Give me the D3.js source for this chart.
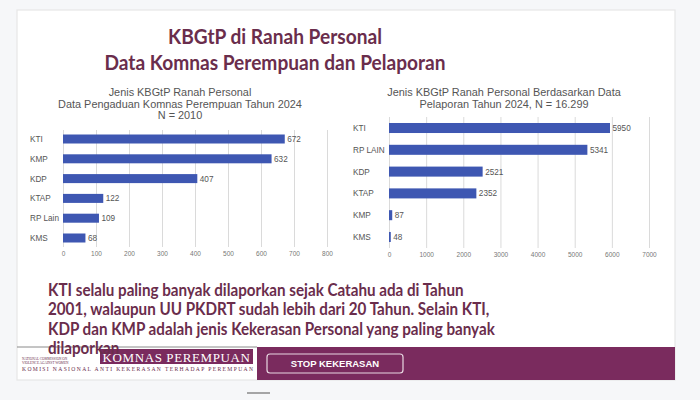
<!DOCTYPE html>
<html><head><meta charset="utf-8">
<script src="https://cdn.jsdelivr.net/npm/d3@7"></script>
<style>html,body{margin:0;padding:0;background:#f6f7f9;}svg{display:block;}</style>
</head><body>
<script>
const leftCategories = ["KTI","KMP","KDP","KTAP","RP Lain","KMS"];
const leftValues = [672,632,407,122,109,68];
const leftTicks = [0,100,200,300,400,500,600,700,800];
const rightCategories = ["KTI","RP LAIN","KDP","KTAP","KMP","KMS"];
const rightValues = [5950,5341,2521,2352,87,48];
const rightTicks = [0,1000,2000,3000,4000,5000,6000,7000];
const leftTitle = ["Jenis KBGtP Ranah Personal","Data Pengaduan Komnas Perempuan Tahun 2024","N = 2010"];
const rightTitle = ["Jenis KBGtP Ranah Personal Berdasarkan Data","Pelaporan Tahun 2024, N = 16.299"];
const mainTitle = ["KBGtP di Ranah Personal","Data Komnas Perempuan dan Pelaporan"];
const bodyText = ["KTI selalu paling banyak dilaporkan sejak Catahu ada di Tahun","2001, walaupun UU PKDRT sudah lebih dari 20 Tahun. Selain KTI,","KDP dan KMP adalah jenis Kekerasan Personal yang paling banyak","dilaporkan"];

const W=700,H=400;
const svg=d3.select("body").append("svg").attr("width",W).attr("height",H);
svg.append("rect").attr("width",W).attr("height",H).attr("fill","#f6f7f9");
// card
svg.append("rect").attr("x",17).attr("y",10).attr("width",658).attr("height",370).attr("fill","#ffffff").attr("stroke","#e6e6e6").attr("stroke-width",1.2);

const maroon="#6a2d4c";
svg.append("g").attr("transform","translate(275,0) scale(0.92,1)")
  .selectAll("text.mt").data(mainTitle).join("text").attr("class","mt")
  .attr("x",0).attr("y",(d,i)=>44.5+i*26).attr("text-anchor","middle")
  .attr("font-family","Lato, 'Noto Sans', sans-serif").attr("font-weight","bold")
  .attr("font-size",20.8).attr("fill",maroon).text(d=>d);

function chart(cats,vals,ticks,title,cfg){
  const g=svg.append("g");
  const x=d3.scaleLinear().domain([0,ticks[ticks.length-1]]).range([cfg.x0,cfg.x1]);
  const y=d3.scaleBand().domain(cats).range([cfg.y0,cfg.y1]).paddingInner(cfg.pi).paddingOuter(cfg.po);
  g.selectAll("text.ct").data(title).join("text").attr("class","ct")
    .attr("x",cfg.tx).attr("y",(d,i)=>cfg.ty+i*11.7).attr("text-anchor","middle")
    .attr("font-family","'Liberation Sans', Arial, sans-serif").attr("font-size",10.9).attr("fill","#555").text(d=>d);
  const ax=d3.axisBottom(x).tickValues(ticks).tickSize(-(cfg.y1-cfg.y0)).tickFormat(d3.format("d"));
  const axg=g.append("g").attr("transform",`translate(0,${cfg.y1})`).call(ax);
  axg.select(".domain").remove();
  axg.selectAll(".tick line").attr("stroke","#dadada").attr("stroke-width",1);
  axg.selectAll(".tick text").attr("font-family","'Liberation Sans', Arial, sans-serif").attr("font-size",6.5).attr("fill","#777").attr("dy",0).attr("y",9);
  g.selectAll("rect.bar").data(vals).join("rect").attr("class","bar")
    .attr("x",x(0)).attr("y",(d,i)=>y(cats[i])).attr("width",d=>x(d)-x(0)).attr("height",y.bandwidth())
    .attr("fill","#3e57b2");
  g.selectAll("text.vl").data(vals).join("text").attr("class","vl")
    .attr("x",d=>x(d)+2.5).attr("y",(d,i)=>y(cats[i])+y.bandwidth()/2+3)
    .attr("font-family","'Liberation Sans', Arial, sans-serif").attr("font-size",8.2).attr("fill","#555").text(d=>d);
  g.selectAll("text.cl").data(cats).join("text").attr("class","cl")
    .attr("x",cfg.lx).attr("y",d=>y(d)+y.bandwidth()/2+3)
    .attr("font-family","'Liberation Sans', Arial, sans-serif").attr("font-size",8.2).attr("fill","#555").text(d=>d);
}
chart(leftCategories,leftValues,leftTicks,leftTitle,{x0:63,x1:327,y0:130,y1:247,pi:0.545,po:0.227,tx:180,ty:96,lx:30});
chart(rightCategories,rightValues,rightTicks,rightTitle,{x0:389,x1:649,y0:117,y1:248,pi:0.54,po:0.275,tx:504,ty:96,lx:353});

// footer
const fy=347;
svg.append("rect").attr("x",257).attr("y",fy).attr("width",418).attr("height",33).attr("fill","#7a2b5e");
svg.append("line").attr("x1",17).attr("x2",257).attr("y1",fy).attr("y2",fy).attr("stroke","#8a8a8a").attr("stroke-width",1);
svg.append("rect").attr("x",100).attr("y",349).attr("width",153).attr("height",15).attr("fill","#7a2b5e");
svg.append("text").attr("x",176.5).attr("y",361.5).attr("text-anchor","middle")
  .attr("font-family","'Liberation Serif', serif").attr("font-size",13).attr("fill","#ffffff").attr("letter-spacing",0.6).text("KOMNAS PEREMPUAN");
svg.append("text").attr("x",22).attr("y",359.5).attr("font-family","'Liberation Serif', serif").attr("font-size",3.4).attr("fill","#6a2d4c").text("NATIONAL COMMISSION ON");
svg.append("text").attr("x",22).attr("y",363.8).attr("font-family","'Liberation Serif', serif").attr("font-size",3.4).attr("fill","#6a2d4c").text("VIOLENCE AGAINST WOMEN");
svg.append("text").attr("x",22).attr("y",371).attr("textLength",231).attr("font-family","'Liberation Serif', serif").attr("font-size",5.6).attr("fill","#6a2d4c").text("KOMISI NASIONAL ANTI KEKERASAN TERHADAP PEREMPUAN");
svg.append("rect").attr("x",267).attr("y",354).attr("width",136).attr("height",19).attr("rx",3).attr("fill","none").attr("stroke","#e8d8e2").attr("stroke-width",1.2);
svg.append("text").attr("x",335).attr("y",367).attr("text-anchor","middle").attr("font-family","'Liberation Sans Narrow', 'Liberation Sans', Arial, sans-serif").attr("font-weight","bold").attr("font-size",9.5).attr("fill","#ffffff").text("STOP KEKERASAN");

svg.append("g").attr("transform","translate(48,0) scale(0.91,1)")
  .selectAll("text.bt").data(bodyText).join("text").attr("class","bt")
  .attr("x",0).attr("y",(d,i)=>295.5+i*19.6)
  .attr("font-family","Lato, 'Noto Sans', sans-serif").attr("font-weight","bold")
  .attr("font-size",16.7).attr("fill",maroon).text(d=>d);

svg.append("line").attr("x1",247).attr("x2",270).attr("y1",393).attr("y2",393).attr("stroke","#8a8a8a").attr("stroke-width",1.5);
</script>
</body></html>
